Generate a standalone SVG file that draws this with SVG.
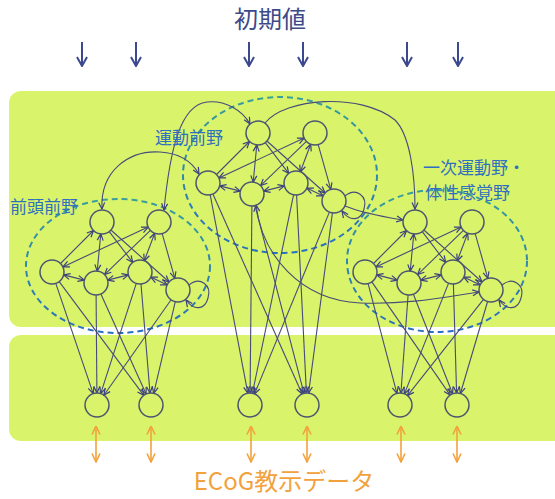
<svg xmlns="http://www.w3.org/2000/svg" width="555" height="499" viewBox="0 0 555 499">
<style>
.panel{fill:#d9f46b}
.node{fill:none;stroke:#4d5570;stroke-width:1.5}
.e{fill:none;stroke:#474b78;stroke-width:1.1;marker-end:url(#ah)}
.b{marker-start:url(#ah)}
.region{fill:none;stroke:url(#dg);stroke-width:2;stroke-dasharray:6 4}
.lbl{font-family:"Noto Sans CJK JP","Noto Sans",sans-serif;font-size:17px;fill:#2f6fbf}
.down{stroke:#3c4890;stroke-width:2;marker-end:url(#ad)}
.orange{stroke:#f2a23c;stroke-width:1.6;marker-end:url(#ao);marker-start:url(#ao)}
</style>
<defs>
<linearGradient id="dg" x1="0" y1="0" x2="0" y2="1">
<stop offset="0" stop-color="#3a9e9a"/>
<stop offset="1" stop-color="#2a6fc0"/>
</linearGradient>
<marker id="ah" viewBox="0 0 8 8" refX="7.5" refY="4" markerWidth="8" markerHeight="8" markerUnits="userSpaceOnUse" orient="auto-start-reverse">
<path d="M1,1 L7.5,4 L1,7" fill="none" stroke="#3a3f80" stroke-width="1.2"/>
</marker>
<marker id="ad" viewBox="0 0 12 12" refX="11" refY="6" markerWidth="12" markerHeight="12" markerUnits="userSpaceOnUse" orient="auto">
<path d="M2,1 L11,6 L2,11" fill="none" stroke="#3c4890" stroke-width="2"/>
</marker>
<marker id="ao" viewBox="0 0 10 10" refX="9.5" refY="5" markerWidth="10" markerHeight="10" markerUnits="userSpaceOnUse" orient="auto-start-reverse">
<path d="M1,1 L9.5,5 L1,9" fill="none" stroke="#f2a23c" stroke-width="1.6"/>
</marker>
</defs>

<rect class="panel" x="9" y="91" width="560" height="236" rx="12"/>
<rect class="panel" x="9" y="335" width="560" height="106" rx="12"/>

<text x="270" y="28" text-anchor="middle" font-family="Noto Sans CJK JP, Noto Sans, sans-serif" font-size="24" fill="#3d4a8a">初期値</text>

<g id="regions">
<ellipse class="region" cx="118" cy="266" rx="92" ry="67"/>
<ellipse class="region" cx="280" cy="175" rx="97" ry="78"/>
<ellipse class="region" cx="437" cy="261" rx="90" ry="71"/>
</g>

<g id="connectors">
<g id="inputs">
<line class="down" x1="82" y1="42" x2="82" y2="66"/>
<line class="down" x1="136" y1="42" x2="136" y2="66"/>
<line class="down" x1="249" y1="42" x2="249" y2="66"/>
<line class="down" x1="303" y1="42" x2="303" y2="66"/>
<line class="down" x1="407" y1="42" x2="407" y2="66"/>
<line class="down" x1="458" y1="42" x2="458" y2="66"/>
</g>
<g id="intraA">
<path class="e" d="M60.5,263.5 L93.5,230.5"/>
<path class="e b" d="M62.9,266.9 L148.1,227.1"/>
<path class="e b" d="M100.8,233.9 L97.2,271.1"/>
<path class="e" d="M109.3,231.6 L132.7,262.4"/>
<path class="e" d="M110.9,230 L169.1,282"/>
<path class="e" d="M150.4,230.3 L104.6,274.6"/>
<path class="e b" d="M154.7,233.2 L144.3,260.8"/>
<path class="e" d="M162.2,233.6 L174.8,278.4"/>
<path class="e b" d="M63.6,274.9 L84.4,280.1"/>
<path class="e b" d="M107.6,280.1 L128.4,274.9"/>
<path class="e b" d="M150.8,277.1 L167.2,284.9"/>
<path class="e" d="M189,285 C200,276 212,285 208,298 C205,310 194,311 186,300"/>
</g>
<g id="intraB" transform="translate(156,-89)">
<path class="e" d="M60.5,263.5 L93.5,230.5"/>
<path class="e b" d="M62.9,266.9 L148.1,227.1"/>
<path class="e b" d="M100.8,233.9 L97.2,271.1"/>
<path class="e" d="M109.3,231.6 L132.7,262.4"/>
<path class="e" d="M110.9,230 L169.1,282"/>
<path class="e" d="M150.4,230.3 L104.6,274.6"/>
<path class="e b" d="M154.7,233.2 L144.3,260.8"/>
<path class="e" d="M162.2,233.6 L174.8,278.4"/>
<path class="e b" d="M63.6,274.9 L84.4,280.1"/>
<path class="e b" d="M107.6,280.1 L128.4,274.9"/>
<path class="e b" d="M150.8,277.1 L167.2,284.9"/>
<path class="e" d="M189,285 C200,276 212,285 208,298 C205,310 194,311 186,300"/>
</g>
<g id="intraC" transform="translate(313,0)">
<path class="e" d="M60.5,263.5 L93.5,230.5"/>
<path class="e b" d="M62.9,266.9 L148.1,227.1"/>
<path class="e b" d="M100.8,233.9 L97.2,271.1"/>
<path class="e" d="M109.3,231.6 L132.7,262.4"/>
<path class="e" d="M110.9,230 L169.1,282"/>
<path class="e" d="M150.4,230.3 L104.6,274.6"/>
<path class="e b" d="M154.7,233.2 L144.3,260.8"/>
<path class="e" d="M162.2,233.6 L174.8,278.4"/>
<path class="e b" d="M63.6,274.9 L84.4,280.1"/>
<path class="e b" d="M107.6,280.1 L128.4,274.9"/>
<path class="e b" d="M150.8,277.1 L167.2,284.9"/>
<path class="e" d="M189,285 C200,276 212,285 208,298 C205,310 194,311 186,300"/>
</g>
<g id="inter">
<path class="e b" d="M102,209 C100,170 130,150 160,152 C180,153 192,162 199,174"/>
<path class="e b" d="M164,210 C170,150 180,105 207,102 C225,100 242,110 250,124"/>
<path class="e" d="M265,123 C285,98 360,92 395,120 C410,135 415,175 415,209"/>
<path class="e" d="M345,206 C365,214 385,217 403,220"/>
<path class="e b" d="M256,205 C262,255 300,300 360,303 C410,305 450,296 479,292"/>
</g>
<g id="feedA">
<path class="e" d="M55.8,283.4 L93.2,393.6"/>
<path class="e" d="M59.2,281.6 L143.8,395.4"/>
<path class="e" d="M96.1,295 L96.9,393"/>
<path class="e" d="M100.9,293.9 L146.1,394.1"/>
<path class="e" d="M136.3,283.4 L100.7,393.6"/>
<path class="e" d="M141,284 L150,393"/>
<path class="e" d="M171.1,299.8 L103.9,395.2"/>
<path class="e" d="M175.3,301.7 L153.7,393.3"/>
</g>
<g id="feedB">
<path class="e" d="M210.2,194.8 L247.8,393.2"/>
<path class="e" d="M212.9,194 L302.1,394"/>
<path class="e" d="M251.9,206 L250.1,393"/>
<path class="e" d="M255,205.6 L304,393.4"/>
<path class="e" d="M293.6,194.7 L252.4,393.3"/>
<path class="e" d="M296.6,195 L306.4,393"/>
<path class="e" d="M329.4,212.1 L254.6,393.9"/>
<path class="e" d="M332.4,212.9 L308.6,393.1"/>
</g>
<g id="feedC">
<path class="e" d="M368.1,283.6 L396.9,393.4"/>
<path class="e" d="M371.8,281.9 L450.2,395.1"/>
<path class="e" d="M408.1,295 L400.9,393"/>
<path class="e" d="M413.4,294.2 L452.6,393.8"/>
<path class="e" d="M448.6,283.1 L404.4,393.9"/>
<path class="e" d="M453.4,284 L456.6,393"/>
<path class="e" d="M483.5,299.4 L407.5,395.6"/>
<path class="e" d="M487.6,301.5 L460.4,393.5"/>
</g>
<g id="teacher">
<line class="orange" x1="96" y1="426" x2="96" y2="462"/>
<line class="orange" x1="151" y1="426" x2="151" y2="462"/>
<line class="orange" x1="251" y1="426" x2="251" y2="462"/>
<line class="orange" x1="307" y1="426" x2="307" y2="462"/>
<line class="orange" x1="401" y1="426" x2="401" y2="462"/>
<line class="orange" x1="457" y1="426" x2="457" y2="462"/>
</g>
</g>

<g id="A1"><circle class="node" cx="102" cy="222" r="12"/></g>
<g id="A2"><circle class="node" cx="159" cy="222" r="12"/></g>
<g id="A3"><circle class="node" cx="52" cy="272" r="12"/></g>
<g id="A4"><circle class="node" cx="96" cy="283" r="12"/></g>
<g id="A5"><circle class="node" cx="140" cy="272" r="12"/></g>
<g id="A6"><circle class="node" cx="178" cy="290" r="12"/></g>

<g id="B1"><circle class="node" cx="258" cy="133" r="12"/></g>
<g id="B2"><circle class="node" cx="315" cy="133" r="12"/></g>
<g id="B3"><circle class="node" cx="208" cy="183" r="12"/></g>
<g id="B4"><circle class="node" cx="252" cy="194" r="12"/></g>
<g id="B5"><circle class="node" cx="296" cy="183" r="12"/></g>
<g id="B6"><circle class="node" cx="334" cy="201" r="12"/></g>

<g id="C1"><circle class="node" cx="415" cy="222" r="12"/></g>
<g id="C2"><circle class="node" cx="472" cy="222" r="12"/></g>
<g id="C3"><circle class="node" cx="365" cy="272" r="12"/></g>
<g id="C4"><circle class="node" cx="409" cy="283" r="12"/></g>
<g id="C5"><circle class="node" cx="453" cy="272" r="12"/></g>
<g id="C6"><circle class="node" cx="491" cy="290" r="12"/></g>

<g id="O1"><circle class="node" cx="97" cy="405" r="12"/></g>
<g id="O2"><circle class="node" cx="151" cy="405" r="12"/></g>
<g id="O3"><circle class="node" cx="250" cy="405" r="12"/></g>
<g id="O4"><circle class="node" cx="307" cy="405" r="12"/></g>
<g id="O5"><circle class="node" cx="400" cy="405" r="12"/></g>
<g id="O6"><circle class="node" cx="457" cy="405" r="12"/></g>

<g id="labels">
<text class="lbl" x="10" y="213">前頭前野</text>
<text class="lbl" x="155" y="144">運動前野</text>
<text class="lbl" x="423" y="174">一次運動野・</text>
<text class="lbl" x="425" y="199">体性感覚野</text>
</g>

<text x="284" y="490" text-anchor="middle" font-family="Noto Sans CJK JP, Noto Sans, sans-serif" font-size="24" fill="#f2a23c">ECoG教示データ</text>
</svg>
